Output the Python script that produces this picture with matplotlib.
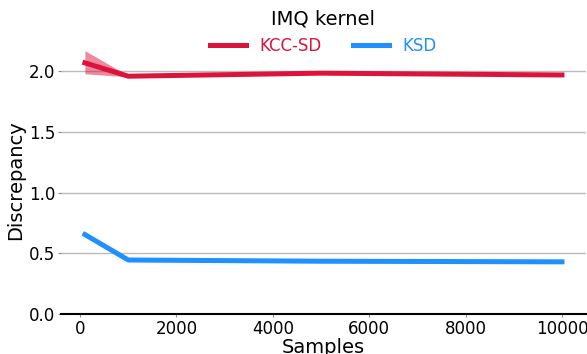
import matplotlib
matplotlib.use("Agg")
import matplotlib.pyplot as plt

# Data
samples = [100, 1000, 5000, 10000]
kcc_mean = [2.07, 1.96, 1.985, 1.97]
kcc_low = [1.98, 1.955, 1.98, 1.965]
kcc_high = [2.17, 1.965, 1.99, 1.975]
ksd_mean = [0.655, 0.445, 0.435, 0.43]
ksd_low = [0.64, 0.44, 0.432, 0.427]
ksd_high = [0.67, 0.45, 0.438, 0.433]

fig = plt.figure(figsize=(5.87, 3.54), dpi=100)
ax = fig.add_axes([0.104, 0.113, 0.894, 0.754])

ax.plot(samples, kcc_mean, color="crimson", lw=3.6, label="KCC-SD")
ax.fill_between(samples, kcc_low, kcc_high, color="crimson", alpha=0.5, lw=0)
ax.plot(samples, ksd_mean, color="dodgerblue", lw=3.6, label="KSD")
ax.fill_between(samples, ksd_low, ksd_high, color="dodgerblue", alpha=0.5, lw=0)

ax.set_ylim(0, 2.2)
ax.set_yticks([0.0, 0.5, 1.0, 1.5, 2.0])
ax.set_xticks([0, 2000, 4000, 6000, 8000, 10000])
ax.yaxis.grid(True, color="#bbbbbb", lw=1)
ax.set_axisbelow(True)
for side in ["left", "right", "top"]:
    ax.spines[side].set_visible(False)
ax.spines["bottom"].set_linewidth(1.5)
ax.tick_params(labelsize=12, length=2.5, pad=1.5, color="#888888")
ax.set_xlabel("Samples", fontsize=14, labelpad=0)
ax.set_ylabel("Discrepancy", fontsize=14, labelpad=3)

leg = ax.legend(title="IMQ kernel", loc="lower center", bbox_to_anchor=(0.5, 0.915),
                ncol=2, frameon=False, fontsize=12, title_fontsize=14,
                handlelength=2.15, columnspacing=1.9)
for txt, ln in zip(leg.get_texts(), leg.get_lines()):
    txt.set_color(ln.get_color())

fig.savefig("out.png", dpi=100)
